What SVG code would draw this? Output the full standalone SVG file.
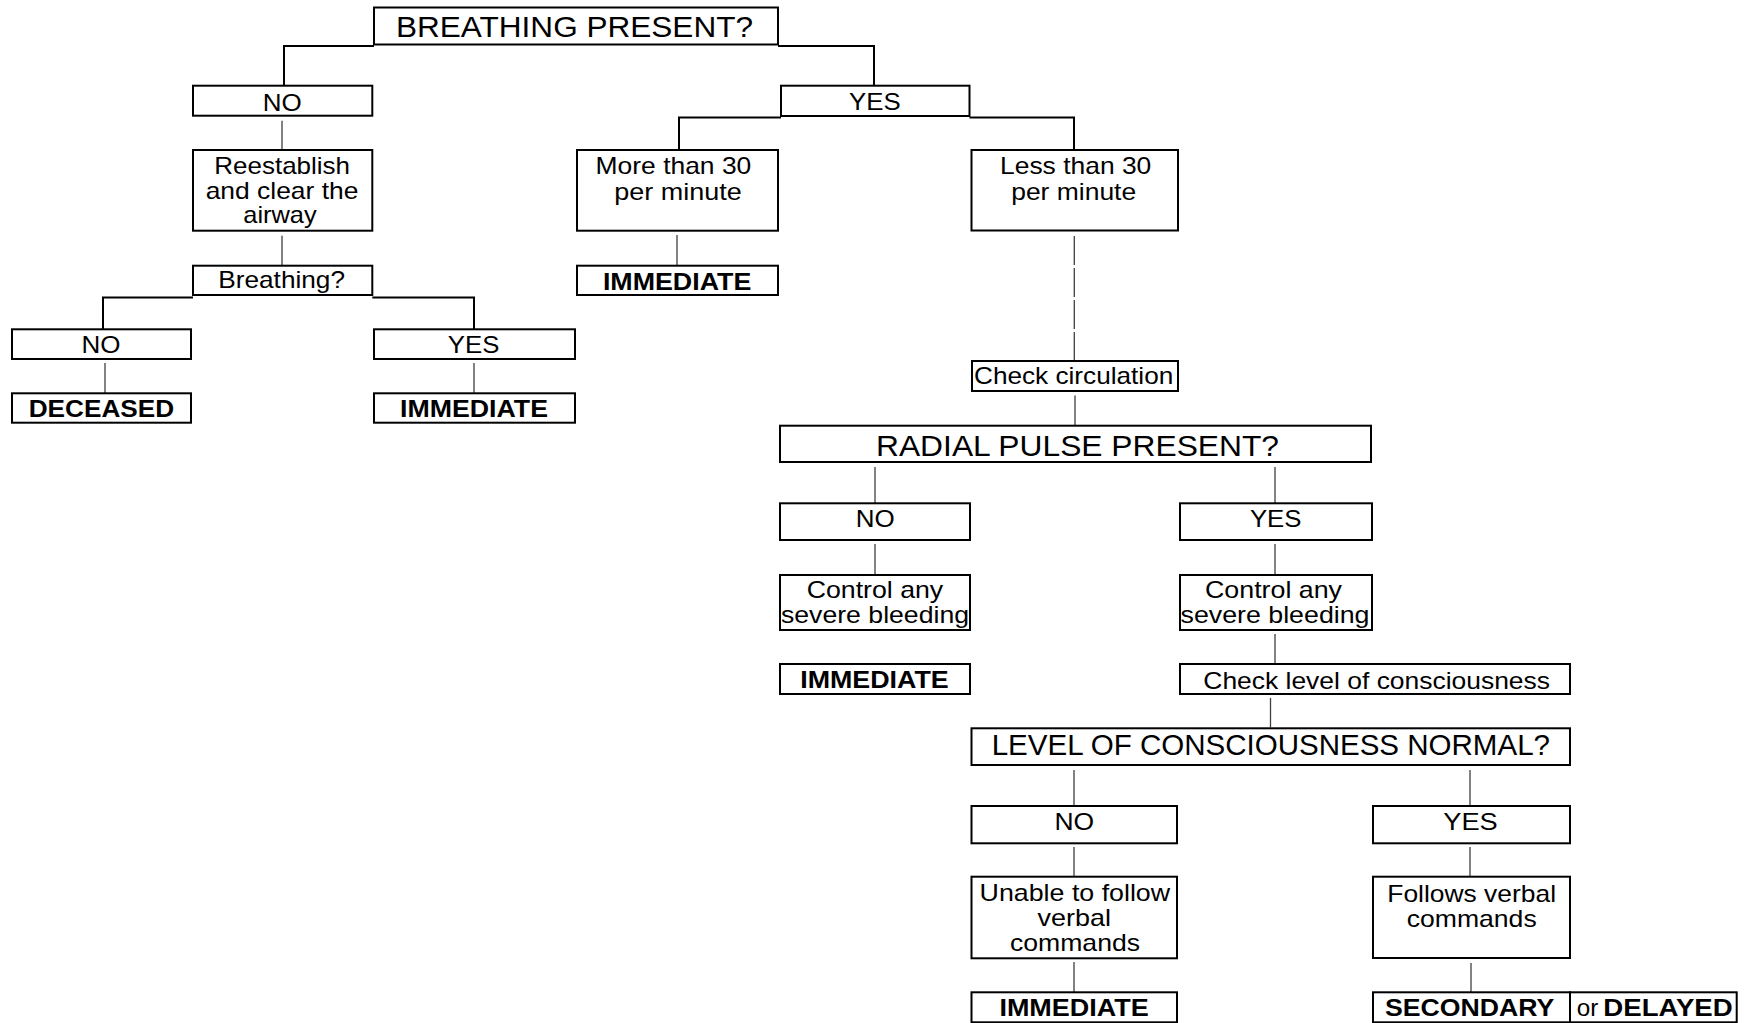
<svg xmlns="http://www.w3.org/2000/svg" width="1749" height="1023" viewBox="0 0 1749 1023">
<style>
.box{fill:#fff;stroke:#000;stroke-width:2}
.elbow{fill:none;stroke:#000;stroke-width:2}
.thin{fill:none;stroke:#404040;stroke-width:1.3}
.dash{stroke-dasharray:29 3}
text{font-family:"Liberation Sans",Arial,sans-serif;font-size:24px;fill:#000}
.h{font-size:30px}
.b{font-weight:bold;font-size:23.5px}
</style>
<rect x="0" y="0" width="1749" height="1023" fill="#fff"/>
<g id="connectors">
<path class="elbow" d="M374,46 H284 V85.7"/>
<path class="elbow" d="M778,46 H874 V85.7"/>
<path class="elbow" d="M781,117.5 H679 V150"/>
<path class="elbow" d="M969.5,117.5 H1074 V150"/>
<path class="elbow" d="M193,297.5 H103 V329.3"/>
<path class="elbow" d="M372.3,297.5 H474 V329.3"/>
<path class="thin" d="M282,120.7 V149"/>
<path class="thin" d="M282,235.7 V265"/>
<path class="thin" d="M105,363 V393"/>
<path class="thin" d="M474,363 V393"/>
<path class="thin" d="M677,235 V265"/>
<path class="thin dash" d="M1074.3,236 V361"/>
<path class="thin" d="M1075,395.5 V425.5"/>
<path class="thin" d="M875,467 V503"/>
<path class="thin" d="M875,544 V574"/>
<path class="thin" d="M1275,467 V503"/>
<path class="thin" d="M1275,544 V574"/>
<path class="thin" d="M1275,634 V663"/>
<path class="thin" d="M1270.5,698 V727.5"/>
<path class="thin" d="M1074,770 V806"/>
<path class="thin" d="M1074,847 V876.5"/>
<path class="thin" d="M1074,962 V992"/>
<path class="thin" d="M1470,770 V806"/>
<path class="thin" d="M1470,847 V876.5"/>
<path class="thin" d="M1471,963 V992"/>
</g>
<g id="breathing-present">
<rect class="box" x="374" y="7.5" width="404" height="37"/>
<text class="h" x="396" y="36.5" textLength="357" lengthAdjust="spacingAndGlyphs">BREATHING PRESENT?</text>
</g>
<g id="no-1">
<rect class="box" x="193" y="85.7" width="179.3" height="30"/>
<text x="262.7" y="110.5" textLength="39" lengthAdjust="spacingAndGlyphs">NO</text>
</g>
<g id="reestablish">
<rect class="box" x="193" y="150" width="179.3" height="80.7"/>
<text><tspan x="214.3" y="174.3" textLength="135.7" lengthAdjust="spacingAndGlyphs">Reestablish</tspan><tspan x="205.7" y="199.3" textLength="152.7" lengthAdjust="spacingAndGlyphs">and clear the</tspan><tspan x="243.3" y="223.3" textLength="73.4" lengthAdjust="spacingAndGlyphs">airway</tspan></text>
</g>
<g id="breathing-q">
<rect class="box" x="193" y="265.7" width="179.3" height="29.3"/>
<text x="218.3" y="288.3" textLength="126.7" lengthAdjust="spacingAndGlyphs">Breathing?</text>
</g>
<g id="no-2">
<rect class="box" x="12" y="329.3" width="179" height="29.7"/>
<text x="81.5" y="353.3" textLength="39" lengthAdjust="spacingAndGlyphs">NO</text>
</g>
<g id="deceased">
<rect class="box" x="12" y="393.3" width="179" height="29.4"/>
<text class="b" x="28.7" y="416.7" textLength="145.4" lengthAdjust="spacingAndGlyphs">DECEASED</text>
</g>
<g id="yes-2">
<rect class="box" x="374" y="329.3" width="201" height="29.7"/>
<text x="447.8" y="353.3" textLength="51.6" lengthAdjust="spacingAndGlyphs">YES</text>
</g>
<g id="immediate-1">
<rect class="box" x="374" y="393.3" width="201" height="29.4"/>
<text class="b" x="400" y="416.7" textLength="148" lengthAdjust="spacingAndGlyphs">IMMEDIATE</text>
</g>
<g id="yes-1">
<rect class="box" x="781" y="85.7" width="188.5" height="30.3"/>
<text x="849" y="110.3" textLength="51.6" lengthAdjust="spacingAndGlyphs">YES</text>
</g>
<g id="more-than-30">
<rect class="box" x="577" y="150" width="201" height="80.7"/>
<text><tspan x="595.6" y="174.3" textLength="155.7" lengthAdjust="spacingAndGlyphs">More than 30</tspan><tspan x="614.3" y="199.5" textLength="127.5" lengthAdjust="spacingAndGlyphs">per minute</tspan></text>
</g>
<g id="immediate-2">
<rect class="box" x="577" y="265.7" width="201" height="29.3"/>
<text class="b" x="602.9" y="289.5" textLength="148.4" lengthAdjust="spacingAndGlyphs">IMMEDIATE</text>
</g>
<g id="less-than-30">
<rect class="box" x="971.5" y="150" width="206.5" height="80.5"/>
<text><tspan x="1000" y="174.3" textLength="151.3" lengthAdjust="spacingAndGlyphs">Less than 30</tspan><tspan x="1011.2" y="199.5" textLength="125" lengthAdjust="spacingAndGlyphs">per minute</tspan></text>
</g>
<g id="check-circulation">
<rect class="box" x="972" y="361" width="206" height="30"/>
<text x="974" y="384.3" textLength="199.3" lengthAdjust="spacingAndGlyphs">Check circulation</text>
</g>
<g id="radial-pulse">
<rect class="box" x="780" y="425.7" width="591" height="36.3"/>
<text class="h" x="876" y="456" textLength="403" lengthAdjust="spacingAndGlyphs">RADIAL PULSE PRESENT?</text>
</g>
<g id="no-3">
<rect class="box" x="780" y="503.3" width="190" height="36.7"/>
<text x="855.7" y="526.7" textLength="39" lengthAdjust="spacingAndGlyphs">NO</text>
</g>
<g id="control-left">
<rect class="box" x="780" y="575" width="190" height="55"/>
<text><tspan x="806.7" y="597.5" textLength="136.5" lengthAdjust="spacingAndGlyphs">Control any</tspan><tspan x="781" y="622.5" textLength="188" lengthAdjust="spacingAndGlyphs">severe bleeding</tspan></text>
</g>
<g id="immediate-3">
<rect class="box" x="780" y="664" width="190" height="30"/>
<text class="b" x="800.2" y="688.3" textLength="148.5" lengthAdjust="spacingAndGlyphs">IMMEDIATE</text>
</g>
<g id="yes-3">
<rect class="box" x="1180" y="503.3" width="192" height="36.7"/>
<text x="1249.9" y="526.7" textLength="51.6" lengthAdjust="spacingAndGlyphs">YES</text>
</g>
<g id="control-right">
<rect class="box" x="1180" y="575" width="192" height="55"/>
<text><tspan x="1205" y="597.5" textLength="137" lengthAdjust="spacingAndGlyphs">Control any</tspan><tspan x="1180.5" y="622.5" textLength="189" lengthAdjust="spacingAndGlyphs">severe bleeding</tspan></text>
</g>
<g id="check-consciousness">
<rect class="box" x="1180" y="664" width="390" height="30"/>
<text x="1203.3" y="689" textLength="346.7" lengthAdjust="spacingAndGlyphs">Check level of consciousness</text>
</g>
<g id="consciousness-normal">
<rect class="box" x="971.5" y="728.3" width="598.5" height="36.7"/>
<text class="h" x="991.7" y="755" textLength="558.3" lengthAdjust="spacingAndGlyphs">LEVEL OF CONSCIOUSNESS NORMAL?</text>
</g>
<g id="no-4">
<rect class="box" x="971.5" y="806" width="205.5" height="37.3"/>
<text x="1054.5" y="830" textLength="39.7" lengthAdjust="spacingAndGlyphs">NO</text>
</g>
<g id="unable">
<rect class="box" x="971.5" y="876.7" width="205.5" height="81.6"/>
<text><tspan x="979.6" y="901" textLength="190.5" lengthAdjust="spacingAndGlyphs">Unable to follow</tspan><tspan x="1037.6" y="926" textLength="73.4" lengthAdjust="spacingAndGlyphs">verbal</tspan><tspan x="1010" y="951" textLength="130" lengthAdjust="spacingAndGlyphs">commands</tspan></text>
</g>
<g id="immediate-4">
<rect class="box" x="971.5" y="992.3" width="205.5" height="30"/>
<text class="b" x="999.4" y="1015.7" textLength="149.3" lengthAdjust="spacingAndGlyphs">IMMEDIATE</text>
</g>
<g id="yes-4">
<rect class="box" x="1373" y="806" width="197" height="37.3"/>
<text x="1443.3" y="830" textLength="54.5" lengthAdjust="spacingAndGlyphs">YES</text>
</g>
<g id="follows">
<rect class="box" x="1373" y="876.7" width="197" height="81.3"/>
<text><tspan x="1387.3" y="901.5" textLength="168.7" lengthAdjust="spacingAndGlyphs">Follows verbal</tspan><tspan x="1406.7" y="926.5" textLength="130" lengthAdjust="spacingAndGlyphs">commands</tspan></text>
</g>
<g id="secondary">
<rect class="box" x="1373" y="992.3" width="197" height="30"/>
<text class="b" x="1385" y="1016" textLength="169.3" lengthAdjust="spacingAndGlyphs">SECONDARY</text>
</g>
<g id="delayed">
<rect class="box" x="1570" y="992.3" width="166.7" height="30"/>
<text x="1576.7" y="1016" textLength="21.6" lengthAdjust="spacingAndGlyphs">or</text>
<text class="b" x="1603.3" y="1016" textLength="129.4" lengthAdjust="spacingAndGlyphs">DELAYED</text>
</g>
</svg>
